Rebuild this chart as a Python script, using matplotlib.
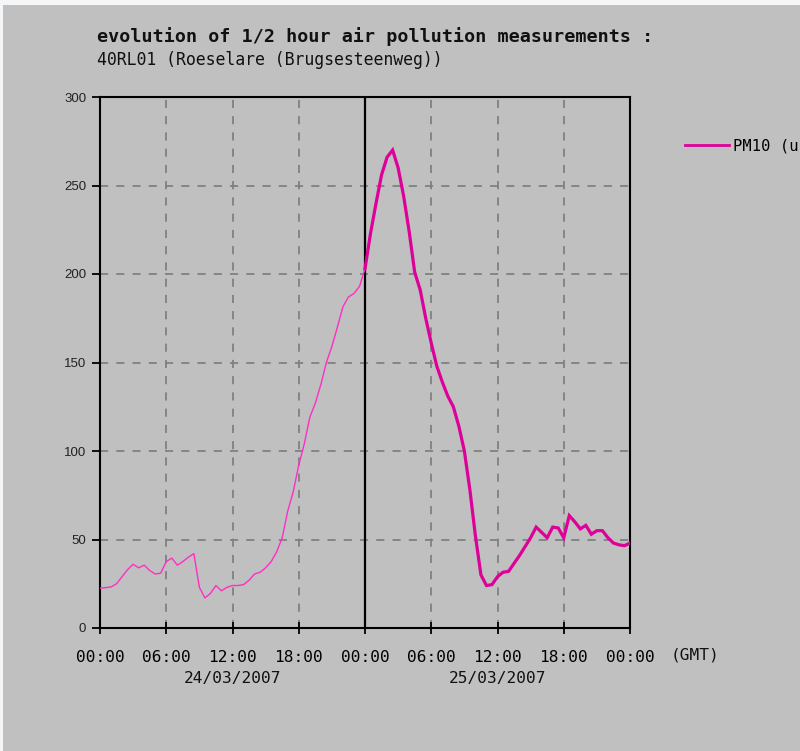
import numpy as np
import matplotlib
matplotlib.use("Agg")
import matplotlib.pyplot as plt
import matplotlib.transforms as mtransforms
from matplotlib.patches import Rectangle

# Half-hourly PM10 values (ug/m3), 24/03/2007 00:00 -> 26/03/2007 00:00
day1_values = [22.5, 22.8, 23.2, 25, 29, 33, 36, 34, 35.5, 32.5, 30.5, 31,
               37.5, 39.5, 35.5, 37.5, 40, 42, 23, 17, 19.5, 24, 21, 23,
               24, 24, 24.5, 27, 30.5, 31.5, 34, 37.5, 43, 51, 66, 77,
               92, 104, 119, 127, 137.5, 150, 159, 170, 181.5, 187, 189, 193,
               203]
day2_values = [203, 223, 240, 256, 266, 270, 260, 244, 224, 201, 191, 175,
               161, 148, 139, 131, 125, 114, 100, 78, 52, 30, 24, 24.5,
               29, 31.5, 32, 36.5, 41, 46, 51, 57, 54, 51, 57, 56.5,
               51, 63.5, 60, 56, 58, 53, 55, 55, 51, 48, 47, 46.5,
               48]
day1_hours = np.arange(len(day1_values)) * 0.5
day2_hours = 24 + np.arange(len(day2_values)) * 0.5

x_ticks = list(range(0, 49, 6))
x_tick_labels = ["00:00", "06:00", "12:00", "18:00", "00:00",
                 "06:00", "12:00", "18:00", "00:00"]
y_ticks = [0, 50, 100, 150, 200, 250, 300]
date_labels = ["24/03/2007", "25/03/2007"]
date_centres = [12, 36]
legend_label = "PM10 (u"

W, H = 800, 751
bg = "#c0c0c0"
mono = "DejaVu Sans Mono"

fig = plt.figure(figsize=(W / 100, H / 100), dpi=100, facecolor=bg)
# thin light strips along the top and left edges
fig.patches.append(Rectangle((0, 1 - 5 / H), 1, 5 / H, transform=fig.transFigure,
                             facecolor="#f4f6f8", edgecolor="none", zorder=0))
fig.patches.append(Rectangle((0, 0), 3 / W, 1, transform=fig.transFigure,
                             facecolor="#f4f6f8", edgecolor="none", zorder=0))

ax = fig.add_axes([100 / W, (H - 628) / H, 530 / W, 531 / H])
ax.set_facecolor(bg)
ax.set_xlim(0, 48)
ax.set_ylim(0, 300)

# grid
for xv in x_ticks[1:-1]:
    if xv == 24:
        ax.axvline(xv, color="black", lw=1.6, zorder=2)
    else:
        ax.axvline(xv, color="#808080", lw=1.3, ls=(0, (4.5, 4.5)), zorder=1)
for yv in y_ticks[1:-1]:
    ax.axhline(yv, color="#808080", lw=1.3, ls=(0, (4.5, 4.5)), zorder=1)

ax.plot(day1_hours, day1_values, color="#ff2ec4", lw=1.0, zorder=3)
line2, = ax.plot(day2_hours, day2_values, color="#dd0099", lw=2.3, zorder=4,
                 solid_joinstyle="miter")

for s in ax.spines.values():
    s.set_color("black")
    s.set_linewidth(1.5)

ax.set_xticks(x_ticks)
ax.set_xticklabels(x_tick_labels, family=mono, fontsize=11.6)
ax.set_yticks(y_ticks)
ax.set_yticklabels([str(v) for v in y_ticks], family="Liberation Sans", fontsize=9.5,
                   color="#222222")
ax.tick_params(axis="x", direction="inout", length=8, width=1.3, pad=12)
ax.tick_params(axis="y", direction="out", length=6, width=1.3, pad=4)

blend = mtransforms.blended_transform_factory(ax.transData, fig.transFigure)
for lab, xc in zip(date_labels, date_centres):
    ax.text(xc, 1 - 679 / H, lab, transform=blend, ha="center", va="center",
            family=mono, fontsize=11.6, color="#111111")
fig.text(695 / W, 1 - 655 / H, "(GMT)", ha="center", va="center",
         family=mono, fontsize=11.6, color="#111111")

fig.text(97 / W, 1 - 37 / H, "evolution of 1/2 hour air pollution measurements :",
         ha="left", va="center", family=mono, fontsize=13.2, fontweight="bold",
         color="#111111")
fig.text(97 / W, 1 - 60 / H, "40RL01 (Roeselare (Brugsesteenweg))",
         ha="left", va="center", family=mono, fontsize=11.9, color="#111111")

leg = ax.legend([line2], [legend_label], loc="center left",
                bbox_to_anchor=(685 / W, 1 - 146 / H), bbox_transform=fig.transFigure,
                frameon=False, borderpad=0, borderaxespad=0, handlelength=2.8,
                handletextpad=0.3, prop={"family": mono, "size": 11.2})
leg.get_lines()[0].set_linewidth(2.0)

fig.savefig("out.png", dpi=100, facecolor=bg)
